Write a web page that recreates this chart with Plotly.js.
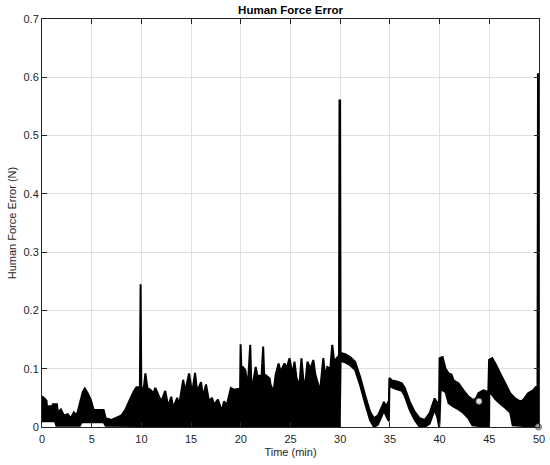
<!DOCTYPE html>
<html>
<head>
<meta charset="utf-8">
<script src="https://cdn.plot.ly/plotly-3.0.1.min.js"></script>
<style>
  html, body { margin: 0; padding: 0; background: #fff; }
  #chart { width: 550px; height: 465px; }
</style>
</head>
<body>
<div id="chart"></div>
<script>
// upper edge of the dense error trace (time in min, error in N)
const upperT = [0, 0.3, 0.45, 0.5, 1.0, 1.1, 1.5, 1.6, 1.9, 2.2, 2.6, 2.9, 3.2, 3.5, 3.8, 4.1, 4.3, 4.6, 4.9, 5.2, 6.2, 6.4, 7.0, 7.5, 8.0, 8.4, 8.8, 9.2, 9.5, 9.85,
  9.92, 9.99, 10.2, 10.4, 10.6, 10.9, 11.2, 11.4, 11.7, 12.0, 12.4, 12.7, 13.0, 13.2, 13.6, 13.8, 14.2, 14.4, 14.8, 15.1, 15.4, 15.6, 16.0, 16.2, 16.5, 16.8, 17.1, 17.3, 17.7, 18.1, 18.3, 18.6, 19.0, 19.3, 19.7, 19.93,
  19.98, 20.05, 20.2, 20.45, 20.7, 20.95, 21.05, 21.2, 21.5, 21.7, 21.9, 22.05, 22.25, 22.35, 22.5, 22.9, 23.0, 23.3, 23.5, 23.8, 24.0, 24.4, 24.6, 24.9, 25.2, 25.4, 25.6, 25.9, 26.1, 26.3, 26.5, 26.7, 27.0, 27.3, 27.5, 27.8, 27.95, 28.3, 28.5, 28.7, 29.0, 29.2, 29.4, 29.75, 29.88,
  29.93, 29.99, 30.04, 30.5, 31.0, 31.5, 32.0, 32.5, 33.0, 33.4, 33.8, 34.2, 34.4, 34.6, 34.9, 34.95, 35.2, 35.7, 36.2, 36.5, 37.0, 37.5, 38.0, 38.5, 39.0, 39.5, 39.8, 39.95,
  40.0, 40.3, 40.6, 40.9, 41.2, 41.4, 41.9, 42.4, 42.9, 43.4, 43.7, 43.9, 44.4, 44.9, 44.98, 45.3, 45.6, 46.1, 46.6, 47.1, 47.6, 48.1, 48.4, 48.9, 49.4, 49.7, 49.85, 49.9, 50];
const upperV = [0.053, 0.048, 0.045, 0.035, 0.036, 0.039, 0.039, 0.025, 0.030, 0.020, 0.022, 0.015, 0.025, 0.020, 0.040, 0.060, 0.066, 0.058, 0.047, 0.029, 0.029, 0.015, 0.012, 0.016, 0.020, 0.030, 0.045, 0.060, 0.068, 0.068,
  0.245, 0.070, 0.060, 0.092, 0.067, 0.064, 0.058, 0.067, 0.055, 0.044, 0.062, 0.035, 0.052, 0.033, 0.050, 0.038, 0.081, 0.061, 0.092, 0.058, 0.093, 0.061, 0.077, 0.052, 0.073, 0.044, 0.050, 0.038, 0.047, 0.027, 0.044, 0.038, 0.067, 0.064, 0.065, 0.065,
  0.142, 0.103, 0.103, 0.098, 0.069, 0.141, 0.080, 0.072, 0.103, 0.085, 0.089, 0.075, 0.138, 0.090, 0.089, 0.083, 0.072, 0.061, 0.089, 0.109, 0.095, 0.109, 0.100, 0.118, 0.090, 0.112, 0.085, 0.070, 0.118, 0.080, 0.075, 0.112, 0.100, 0.115, 0.090, 0.072, 0.058, 0.118, 0.085, 0.103, 0.100, 0.141, 0.112, 0.120, 0.118,
  0.560, 0.560, 0.127, 0.125, 0.120, 0.112, 0.086, 0.055, 0.026, 0.015, 0.020, 0.035, 0.043, 0.035, 0.045, 0.084, 0.080, 0.078, 0.075, 0.067, 0.043, 0.026, 0.015, 0.012, 0.024, 0.049, 0.040, 0.045,
  0.118, 0.120, 0.100, 0.092, 0.090, 0.080, 0.075, 0.063, 0.052, 0.046, 0.050, 0.058, 0.063, 0.060, 0.115, 0.118, 0.109, 0.092, 0.075, 0.058, 0.049, 0.044, 0.046, 0.058, 0.063, 0.069, 0.070, 0.605, 0.605];

// lower edge of the same trace
const lowerT = [0, 1.3, 1.45, 3.8, 4.0, 6.2, 6.4, 29.95,
  30.04, 30.5, 31.0, 31.5, 32.0, 32.5, 33.0, 33.4, 33.8, 34.2, 34.4, 34.6, 34.9, 34.95, 35.5, 36.2, 36.5, 37.0, 37.5, 38.0, 38.5, 39.0, 39.5, 39.8, 39.95,
  40.0, 40.1, 40.6, 40.9, 41.4, 41.9, 42.4, 42.9, 43.3, 44.98, 45.0, 45.3, 45.6, 46.1, 46.6, 47.1, 47.35, 50];
const lowerV = [0.010, 0.010, 0.002, 0.002, 0.008, 0.008, 0.002, 0.0,
  0.113, 0.111, 0.106, 0.098, 0.072, 0.041, 0.012, 0.0, 0.004, 0.020, 0.028, 0.020, 0.010, 0.070, 0.066, 0.062, 0.053, 0.029, 0.012, 0.0, 0.0, 0.006, 0.030, 0.015, 0.0,
  0.010, 0.065, 0.060, 0.041, 0.035, 0.030, 0.024, 0.015, 0.003, 0.0, 0.060, 0.055, 0.048, 0.040, 0.033, 0.025, 0.003, 0.0];

// two marked points
const markT = [43.96, 49.95];
const markV = [0.044, 0.0];

const xTicks = [0, 5, 10, 15, 20, 25, 30, 35, 40, 45, 50];
const yTicks = [0, 0.1, 0.2, 0.3, 0.4, 0.5, 0.6, 0.7];

const ink = '#262626';

// closed outline: along the upper edge, back along the lower edge
const bandT = upperT.concat(lowerT.slice().reverse());
const bandV = upperV.concat(lowerV.slice().reverse());

const traces = [
  {x: bandT, y: bandV, mode: 'lines', fill: 'toself', fillcolor: '#000',
   line: {color: '#000', width: 2, simplify: false}, hoverinfo: 'skip'},
  {x: markT, y: markV, mode: 'markers', cliponaxis: false,
   marker: {size: 6, color: ['#e0e0e0', '#a8a8a0'], line: {color: '#707070', width: 1}}}
];

const axisBase = {
  showline: true, linecolor: ink, linewidth: 1, mirror: 'ticks',
  ticks: 'inside', ticklen: 5, tickcolor: ink, tickwidth: 1,
  showgrid: true, gridcolor: '#e0e0e0', gridwidth: 1,
  zeroline: false, tickfont: {size: 11, color: ink}
};

const layout = {
  width: 550, height: 465,
  margin: {l: 42, r: 11, t: 19, b: 38},
  paper_bgcolor: '#fff', plot_bgcolor: '#fff',
  font: {family: 'Liberation Sans, Arial, sans-serif', size: 11, color: ink},
  showlegend: false,
  title: {text: '<b>Human Force Error</b>', font: {size: 11.5, color: '#000'},
          x: 0.5, xref: 'paper', y: 0.978, yref: 'container', yanchor: 'middle'},
  xaxis: Object.assign({}, axisBase, {
    range: [0, 50], tickvals: xTicks, ticktext: xTicks.map(String), ticklabelstandoff: 2,
    title: {text: 'Time (min)', font: {size: 11, color: ink}, standoff: 4}
  }),
  yaxis: Object.assign({}, axisBase, {
    range: [0, 0.7], tickvals: yTicks, ticktext: yTicks.map(String),
    title: {text: 'Human Force Error (N)', font: {size: 11, color: ink}, standoff: 4}
  })
};

Plotly.newPlot('chart', traces, layout, {staticPlot: true, displayModeBar: false});
</script>
</body>
</html>
